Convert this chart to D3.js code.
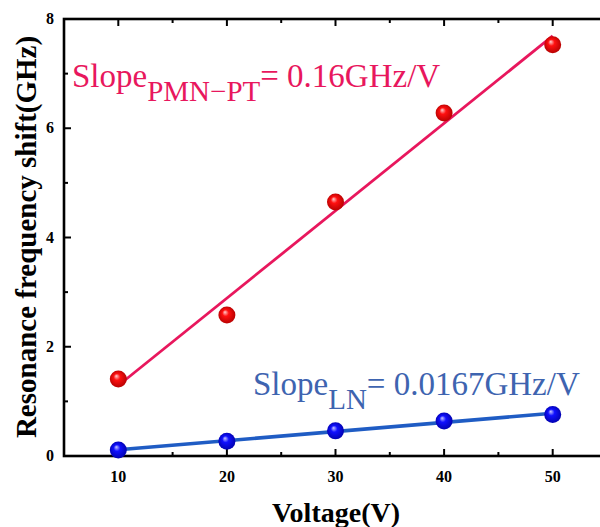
<!DOCTYPE html>
<html>
<head>
<meta charset="utf-8">
<script src="https://cdn.jsdelivr.net/npm/d3@7"></script>
<style>
  html, body { margin: 0; padding: 0; background: #fff; }
  svg { display: block; }
</style>
</head>
<body>
<svg id="chart" width="600" height="527"></svg>
<script>
// Applied voltage (V)
const voltages = [10, 20, 30, 40, 50];
// Resonance frequency shift (GHz) for each substrate
const shiftPMNPT = [1.41, 2.58, 4.65, 6.28, 7.53];
const shiftLN = [0.11, 0.27, 0.46, 0.64, 0.76];
// Fitted slopes (GHz/V)
const slopePMNPT = 0.16;
const slopeLN = 0.0167;
// Axis ticks
const xMajorTicks = [10, 20, 30, 40, 50];
const xMinorTicks = [5, 15, 25, 35, 45, 55];
const yMajorTicks = [0, 2, 4, 6, 8];
const yMinorTicks = [1, 3, 5, 7];

const svg = d3.select("#chart");

const x = d3.scaleLinear().domain([5, 55]).range([64, 607]);
const y = d3.scaleLinear().domain([0, 8]).range([456, 19]);

const serif = "'Liberation Serif', 'Times New Roman', serif";
const red = "#e8175d";
const blueLine = "#1f5cc4";

// Sphere-like marker gradients
const defs = svg.append("defs");
function sphere(id, hi, mid, edge) {
  const g = defs.append("radialGradient").attr("id", id)
    .attr("cx", "50%").attr("cy", "50%").attr("r", "55%")
    .attr("fx", "38%").attr("fy", "32%");
  g.append("stop").attr("offset", "0%").attr("stop-color", hi);
  g.append("stop").attr("offset", "35%").attr("stop-color", mid);
  g.append("stop").attr("offset", "100%").attr("stop-color", edge);
}
sphere("ballRed", "#ffd0d0", "#ff1010", "#b00000");
sphere("ballBlue", "#c8c8ff", "#1010ff", "#0000a8");

// Ticks on all four sides, pointing inward
const majorLen = 7, minorLen = 4;
const axisG = svg.append("g").attr("stroke", "#000").attr("stroke-width", 2);
[y.range()[0], y.range()[1]].forEach((yy, i) => {
  const dir = i === 0 ? -1 : 1;
  xMajorTicks.forEach(t => axisG.append("line")
    .attr("x1", x(t)).attr("x2", x(t)).attr("y1", yy).attr("y2", yy + dir * majorLen));
  xMinorTicks.forEach(t => axisG.append("line")
    .attr("x1", x(t)).attr("x2", x(t)).attr("y1", yy).attr("y2", yy + dir * minorLen));
});
[x.range()[0], x.range()[1]].forEach((xx, i) => {
  const dir = i === 0 ? 1 : -1;
  yMajorTicks.forEach(t => axisG.append("line")
    .attr("y1", y(t)).attr("y2", y(t)).attr("x1", xx).attr("x2", xx + dir * majorLen));
  yMinorTicks.forEach(t => axisG.append("line")
    .attr("y1", y(t)).attr("y2", y(t)).attr("x1", xx).attr("x2", xx + dir * minorLen));
});

// Frame
svg.append("rect")
  .attr("x", x.range()[0]).attr("y", y.range()[1])
  .attr("width", x.range()[1] - x.range()[0])
  .attr("height", y.range()[0] - y.range()[1])
  .attr("fill", "none").attr("stroke", "#000").attr("stroke-width", 2.6);

// Tick labels
svg.append("g").selectAll("text").data(xMajorTicks).join("text")
  .attr("x", d => x(d)).attr("y", 482)
  .attr("text-anchor", "middle")
  .attr("font-family", serif).attr("font-weight", "bold").attr("font-size", 16)
  .text(d => d);
svg.append("g").selectAll("text").data(yMajorTicks).join("text")
  .attr("x", 54).attr("y", d => y(d) + 5)
  .attr("text-anchor", "end")
  .attr("font-family", serif).attr("font-weight", "bold").attr("font-size", 16)
  .text(d => d);

// Axis titles
svg.append("text")
  .attr("x", 336).attr("y", 522)
  .attr("text-anchor", "middle")
  .attr("font-family", serif).attr("font-weight", "bold").attr("font-size", 28)
  .text("Voltage(V)");
svg.append("text")
  .attr("transform", "translate(36,237) rotate(-90)")
  .attr("text-anchor", "middle")
  .attr("font-family", serif).attr("font-weight", "bold").attr("font-size", 29)
  .text("Resonance frequency shift(GHz)");

// Linear fits with the stated slopes, through each series' mean point
function fitLine(values, slope) {
  const xm = d3.mean(voltages), ym = d3.mean(values);
  const x0 = d3.min(voltages), x1 = d3.max(voltages);
  return [[x0, ym + slope * (x0 - xm)], [x1, ym + slope * (x1 - xm)]];
}
const line = d3.line().x(d => x(d[0])).y(d => y(d[1]));

svg.append("path").datum(fitLine(shiftPMNPT, slopePMNPT))
  .attr("d", line).attr("fill", "none").attr("stroke", red).attr("stroke-width", 2.8);
svg.append("path").datum(fitLine(shiftLN, slopeLN))
  .attr("d", line).attr("fill", "none").attr("stroke", blueLine).attr("stroke-width", 3.5);

// Data points
svg.append("g").selectAll("circle").data(voltages).join("circle")
  .attr("cx", d => x(d)).attr("cy", (d, i) => y(shiftPMNPT[i]))
  .attr("r", 8.5).attr("fill", "url(#ballRed)");
svg.append("g").selectAll("circle").data(voltages).join("circle")
  .attr("cx", d => x(d)).attr("cy", (d, i) => y(shiftLN[i]))
  .attr("r", 8.5).attr("fill", "url(#ballBlue)");

// Slope annotations
function slopeLabel(px, py, sub, value, color) {
  const t = svg.append("text")
    .attr("x", px).attr("y", py)
    .attr("font-family", serif).attr("font-size", 33).attr("fill", color);
  t.append("tspan").text("Slope");
  t.append("tspan").attr("dy", 14).attr("font-size", 29).text(sub);
  t.append("tspan").attr("dy", -14).text("= " + value + "GHz/V");
}
slopeLabel(72, 87, "PMN\u2212PT", slopePMNPT, red);
slopeLabel(253, 395, "LN", slopeLN, "#3e64b0");
</script>
</body>
</html>
